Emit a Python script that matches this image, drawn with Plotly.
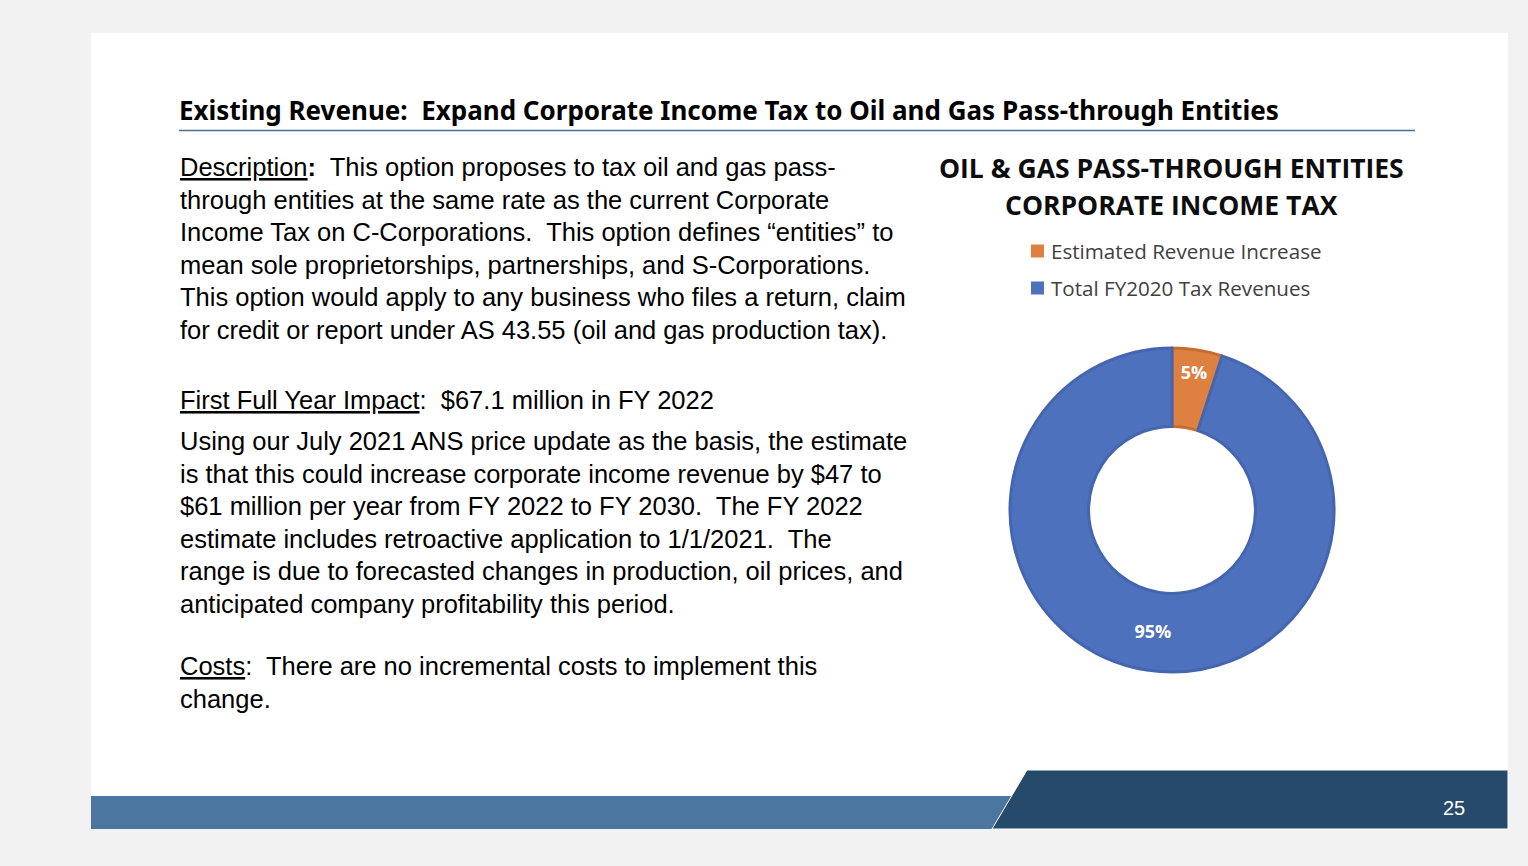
import plotly.graph_objects as go

W, H = 1528, 866

# chart data
labels = ["Estimated Revenue Increase", "Total FY2020 Tax Revenues"]
shares = [5, 95]
fills = ["#DD8040", "#4E71BE"]
edges = ["#C66E32", "#4566AE"]

chart_title = ["OIL & GAS PASS-THROUGH ENTITIES", "CORPORATE INCOME TAX"]

slide_title = "Existing Revenue:  Expand Corporate Income Tax to Oil and Gas Pass-through Entities"

desc_lines = [
    "<u>Description</u><b>:</b>  This option proposes to tax oil and gas pass-",
    "through entities at the same rate as the current Corporate",
    "Income Tax on C-Corporations.  This option defines \u201centities\u201d to",
    "mean sole proprietorships, partnerships, and S-Corporations.",
    "This option would apply to any business who files a return, claim",
    "for credit or report under AS 43.55 (oil and gas production tax).",
]
impact_line = "<u>First Full Year Impact</u>:  $67.1 million in FY 2022"
impact_lines = [
    "Using our July 2021 ANS price update as the basis, the estimate",
    "is that this could increase corporate income revenue by $47 to",
    "$61 million per year from FY 2022 to FY 2030.  The FY 2022",
    "estimate includes retroactive application to 1/1/2021.  The",
    "range is due to forecasted changes in production, oil prices, and",
    "anticipated company profitability this period.",
]
cost_lines = [
    "<u>Costs</u>:  There are no incremental costs to implement this",
    "change.",
]
page_no = "25"


def px(x):
    return x / W


def py(y):
    return 1 - y / H


fig = go.Figure()

# donut
cx, cy, r = 1172, 510, 162
fig.add_trace(go.Pie(
    labels=labels,
    values=shares,
    sort=False,
    direction="clockwise",
    rotation=0,
    hole=0.515,
    marker=dict(colors=fills, line=dict(color=edges, width=3)),
    texttemplate="%{percent:.0%}",
    textposition="inside",
    insidetextorientation="horizontal",
    textfont=dict(family="Open Sans", size=18, color="white", weight="bold"),
    domain=dict(x=[px(cx - r), px(cx + r)], y=[py(cy + r), py(cy - r)]),
    showlegend=False,
    hoverinfo="label+percent",
))

shapes = [
    # white slide
    dict(type="rect", xref="paper", yref="paper", x0=px(91), x1=px(1508), y0=py(829), y1=py(33),
         fillcolor="white", line=dict(width=0), layer="below"),
    # title rule
    dict(type="line", xref="paper", yref="paper", x0=px(179), x1=px(1415), y0=py(130.5), y1=py(130.5),
         line=dict(color="#4E6E90", width=1.5)),
    # footer bars
    dict(type="rect", xref="paper", yref="paper", x0=px(91), x1=px(1012), y0=py(829), y1=py(796),
         fillcolor="#4A76A0", line=dict(width=0)),
    dict(type="path", xref="paper", yref="paper",
         path=f"M {px(1027)},{py(770)} L {px(1508)},{py(770)} L {px(1508)},{py(829)} L {px(992)},{py(829)} Z",
         fillcolor="#264A69", line=dict(color="white", width=1)),
]

annotations = []


def text(x, y, s, size, family="Liberation Sans", color="black", anchor="left", weight="normal"):
    annotations.append(dict(
        xref="paper", yref="paper", x=px(x), y=py(y), text=s, showarrow=False,
        xanchor=anchor, yanchor="middle", align=anchor,
        font=dict(family=family, size=size, color=color, weight=weight),
    ))


text(177, 110, slide_title, 26, family="Noto Sans", weight="bold")

step = 32.5
body = 25.5
for i, s in enumerate(desc_lines):
    text(178, 167 + i * step, s, body)
text(178, 400, impact_line, body)
for i, s in enumerate(impact_lines):
    text(178, 441 + i * step, s, body)
for i, s in enumerate(cost_lines):
    text(178, 666 + i * step, s, body)

for i, s in enumerate(chart_title):
    text(1171, 168 + i * 37, s, 26.5, family="Open Sans", color="#0D0D0D", anchor="center", weight="bold")

# legend
for i, (lab, col) in enumerate(zip(labels, fills)):
    ly = 251 + i * 37
    shapes.append(dict(type="rect", xref="paper", yref="paper", x0=px(1031), x1=px(1044),
                       y0=py(ly + 6.5), y1=py(ly - 6.5), fillcolor=col, line=dict(width=0)))
    text(1049, ly, lab, 20.6, family="Open Sans", color="#404040")

text(1454, 808, page_no, 20, color="white", anchor="center")

fig.update_layout(
    width=W, height=H,
    margin=dict(l=0, r=0, t=0, b=0),
    paper_bgcolor="#F2F2F2",
    plot_bgcolor="#F2F2F2",
    shapes=shapes,
    annotations=annotations,
    uniformtext=dict(minsize=18, mode="show"),
)

fig.write_html(
    "out.html",
    config={"displayModeBar": False},
    post_script="document.body.style.margin='0';document.body.style.background='#F2F2F2';",
)
